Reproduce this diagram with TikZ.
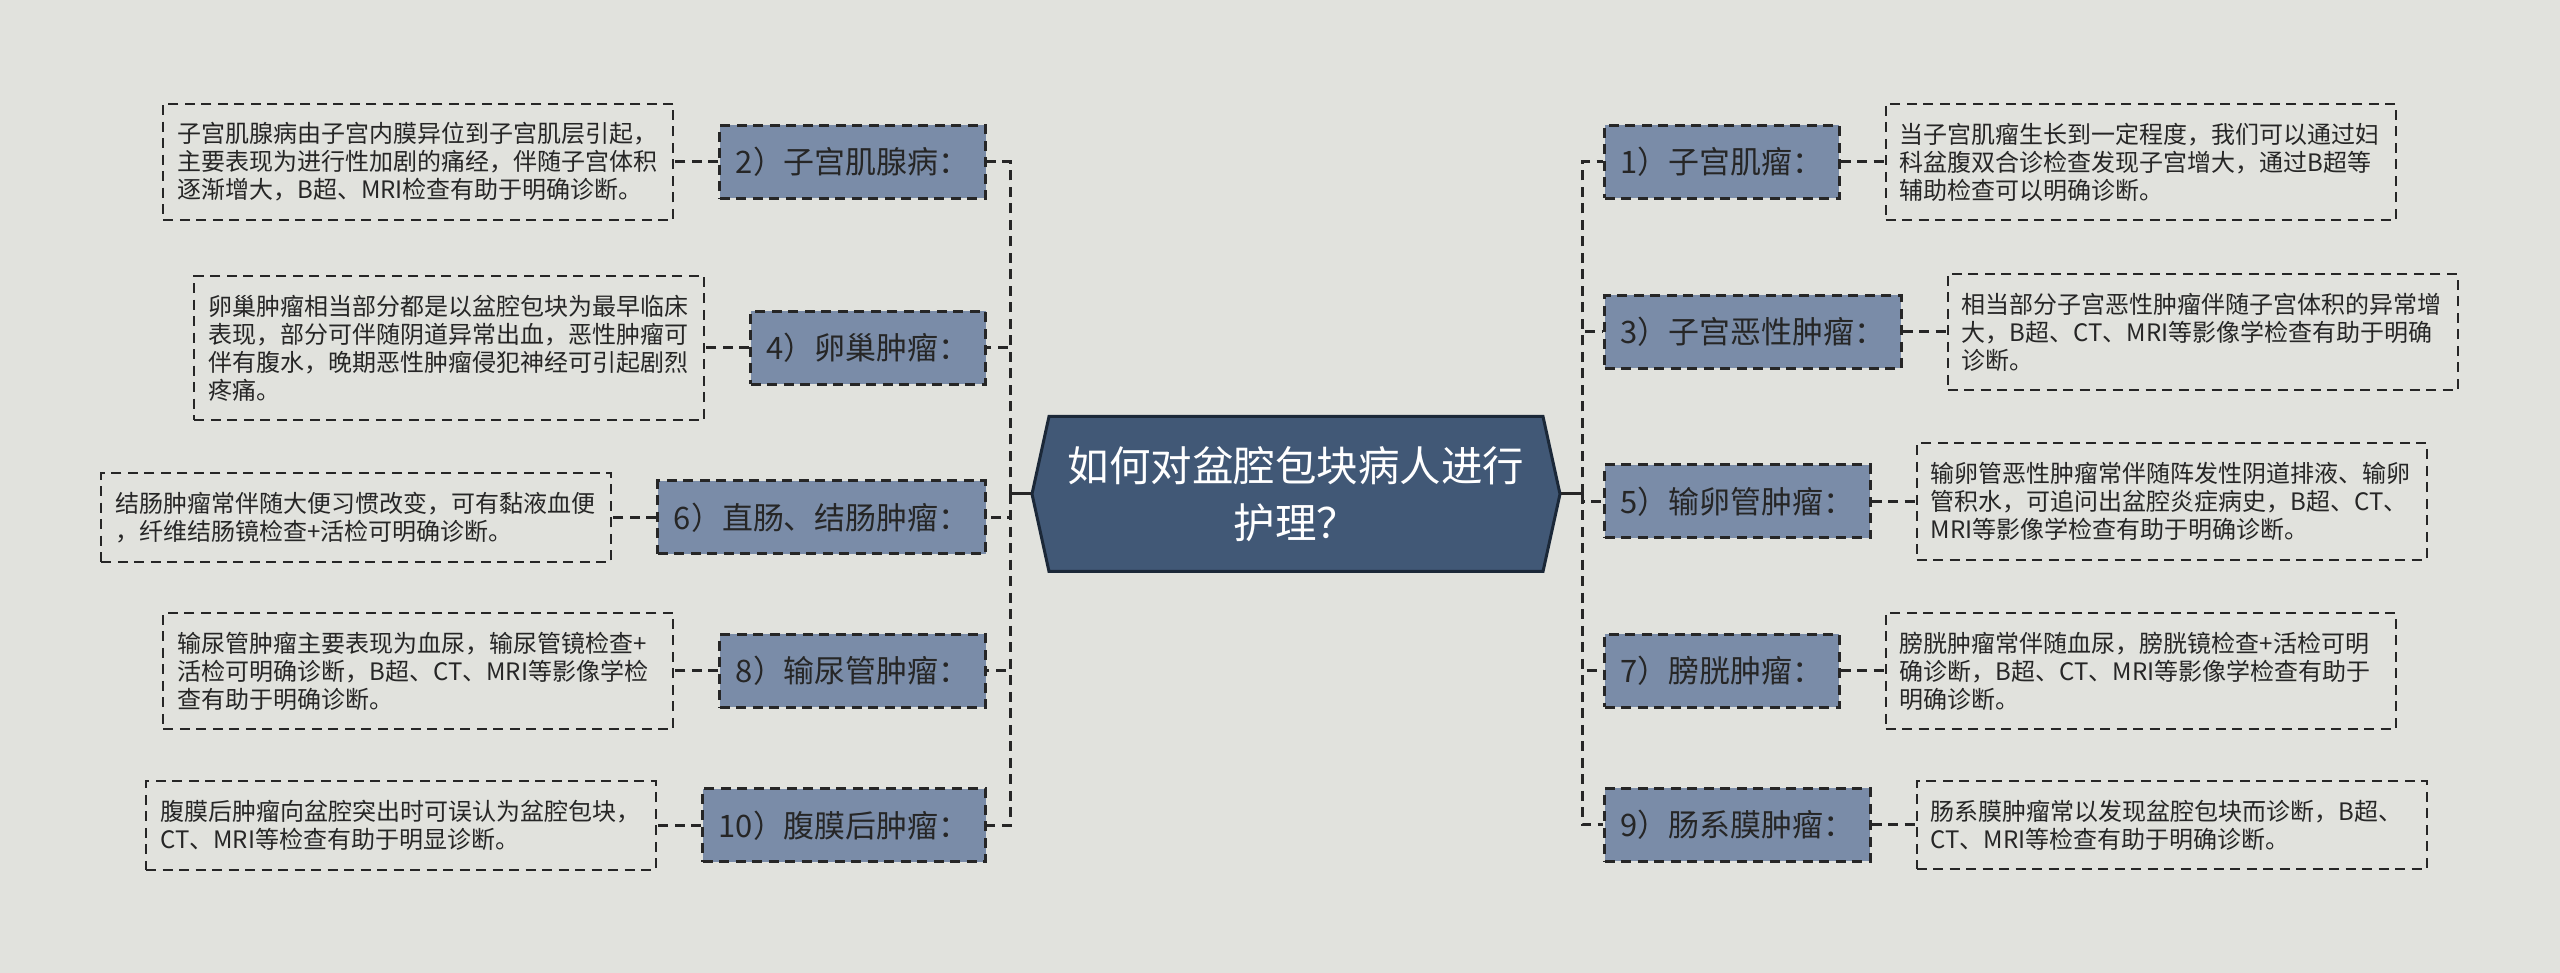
\documentclass[tikz,border=0pt]{standalone}
\usepackage{fontspec}
\setmainfont{Noto Sans CJK SC}
\usepackage{tikz}
\usetikzlibrary{positioning,calc}
\usepackage{xcolor}

\definecolor{pagebg}{HTML}{E1E2DD}
\definecolor{hubfill}{HTML}{415876}
\definecolor{hubedge}{HTML}{1B2838}
\definecolor{catfill}{HTML}{7A8CA8}
\definecolor{inkdark}{HTML}{262626}

\tikzset{
  cat/.style={draw=inkdark, fill=catfill, dash pattern=on 1mm off 0.65mm, line width=0.3mm,
    minimum height=7.3mm, inner xsep=1.6mm, inner ysep=0pt, text=inkdark,
    font=\fontsize{8.8pt}{10pt}\selectfont},
  desc/.style={draw=inkdark, dash pattern=on 1mm off 0.65mm, line width=0.2mm,
    text width=48.2mm, align=left, inner xsep=1.4mm, inner ysep=1.9mm, text=inkdark,
    font=\fontsize{6.83pt}{7.97pt}\selectfont},
  link/.style={draw=inkdark, dash pattern=on 1mm off 0.65mm, line width=0.3mm},
  stub/.style={draw=inkdark, line width=0.3mm},
  hubshape/.style={fill=hubfill, draw=hubedge, line width=0.3mm, line join=miter},
  hubtext/.style={text=white, align=center, minimum width=52.8mm, minimum height=15.5mm,
    font=\fontsize{11.8pt}{16.2pt}\selectfont}
}

\begin{document}
\begin{tikzpicture}[x=0.1mm, y=-0.1mm] % one unit = one pixel of the sketch

\fill[pagebg] (0,0) rectangle (2560,973);
\useasboundingbox (0,0) rectangle (2560,973);

% Centre: hexagon with pointed sides
\def\hx{1296} \def\hy{494} % centre
\def\hw{264}  \def\hh{77.5} \def\tip{17}
\draw[hubshape] (\hx-\hw,\hy) -- (\hx-\hw+\tip,\hy-\hh) -- (\hx+\hw-\tip,\hy-\hh)
  -- (\hx+\hw,\hy) -- (\hx+\hw-\tip,\hy+\hh) -- (\hx-\hw+\tip,\hy+\hh) -- cycle;
\node[hubtext] (hub) at (\hx,\hy) {如何对盆腔包块病人进行\\护理？};

% trunk points
\coordinate (L) at (1010,\hy);
\coordinate (R) at (1582,\hy);

% Left branches
\node[cat, anchor=east] (c2)  at (987,162)   {2）子宫肌腺病：};
\node[cat, anchor=east] (c4)  at (987,348)   {4）卵巢肿瘤：};
\node[cat, anchor=east] (c6)  at (987,517.5) {6）直肠、结肠肿瘤：};
\node[cat, anchor=east] (c8)  at (987,671)   {8）输尿管肿瘤：};
\node[cat, anchor=east] (c10) at (987,825.5) {10）腹膜后肿瘤：};

\node[desc, left=4.4mm of c2] (d2) {子宫肌腺病由子宫内膜异位到子宫肌层引起，\\主要表现为进行性加剧的痛经，伴随子宫体积\\逐渐增大，B超、MRI检查有助于明确诊断。};
\node[desc, left=4.4mm of c4] (d4) {卵巢肿瘤相当部分都是以盆腔包块为最早临床\\表现，部分可伴随阴道异常出血，恶性肿瘤可\\伴有腹水，晚期恶性肿瘤侵犯神经可引起剧烈\\疼痛。};
\node[desc, left=4.4mm of c6] (d6) {结肠肿瘤常伴随大便习惯改变，可有黏液血便\\，纤维结肠镜检查+活检可明确诊断。};
\node[desc, left=4.4mm of c8] (d8) {输尿管肿瘤主要表现为血尿，输尿管镜检查+\\活检可明确诊断，B超、CT、MRI等影像学检\\查有助于明确诊断。};
\node[desc, left=4.4mm of c10] (d10) {腹膜后肿瘤向盆腔突出时可误认为盆腔包块，\\CT、MRI等检查有助于明显诊断。};

% Right branches
\node[cat, anchor=west] (c1) at (1603,162)   {1）子宫肌瘤：};
\node[cat, anchor=west] (c3) at (1603,332)   {3）子宫恶性肿瘤：};
\node[cat, anchor=west] (c5) at (1603,501.5) {5）输卵管肿瘤：};
\node[cat, anchor=west] (c7) at (1603,671)   {7）膀胱肿瘤：};
\node[cat, anchor=west] (c9) at (1603,825)   {9）肠系膜肿瘤：};

\node[desc, right=4.4mm of c1] (d1) {当子宫肌瘤生长到一定程度，我们可以通过妇\\科盆腹双合诊检查发现子宫增大，通过B超等\\辅助检查可以明确诊断。};
\node[desc, right=4.4mm of c3] (d3) {相当部分子宫恶性肿瘤伴随子宫体积的异常增\\大，B超、CT、MRI等影像学检查有助于明确\\诊断。};
\node[desc, right=4.4mm of c5] (d5) {输卵管恶性肿瘤常伴随阵发性阴道排液、输卵\\管积水，可追问出盆腔炎症病史，B超、CT、\\MRI等影像学检查有助于明确诊断。};
\node[desc, right=4.4mm of c7] (d7) {膀胱肿瘤常伴随血尿，膀胱镜检查+活检可明\\确诊断，B超、CT、MRI等影像学检查有助于\\明确诊断。};
\node[desc, right=4.4mm of c9] (d9) {肠系膜肿瘤常以发现盆腔包块而诊断，B超、\\CT、MRI等检查有助于明确诊断。};

% connectors
\draw[stub] (hub.west) -- (L);
\draw[stub] (hub.east) -- (R);
\foreach \i in {2,4,6,8,10} {
  \draw[link] (L) |- (c\i.east);
  \draw[link] (c\i.west) -- (d\i.east);
}
\foreach \i in {1,3,5,7,9} {
  \draw[link] (R) |- (c\i.west);
  \draw[link] (c\i.east) -- (d\i.west);
}
\end{tikzpicture}
\end{document}
